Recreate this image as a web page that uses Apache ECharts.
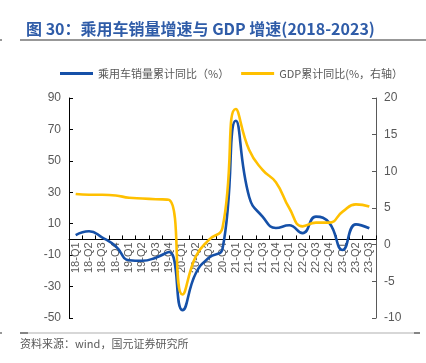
<!DOCTYPE html>
<html><head><meta charset="utf-8">
<script src="https://cdn.jsdelivr.net/npm/echarts@6/dist/echarts.min.js"></script>
<style>html,body{margin:0;padding:0;background:#fff;}#c{width:426px;height:363px;}</style>
</head><body><div id="c"></div>
<script>
var categories = ['18-Q1','18-Q2','18-Q3','18-Q4','19-Q1','19-Q2','19-Q3','19-Q4','20-Q1','20-Q2','20-Q3','20-Q4','21-Q1','21-Q2','21-Q3','21-Q4','22-Q1','22-Q2','22-Q3','22-Q4','23-Q1','23-Q2','23-Q3'];
var carSales = [2.8, 5.2, 1.2, -4.3, -13.2, -13.6, -11.6, -8.0, -45.0, -21.5, -11.5, -6.0, 75.5, 27.0, 14.5, 7.3, 9.0, 4.0, 14.5, 10.5, -6.7, 9.6, 7.1];
var gdp = [6.9, 6.8, 6.8, 6.7, 6.4, 6.3, 6.2, 6.1, -6.8, -1.6, 0.7, 2.3, 18.5, 12.9, 10.2, 8.5, 5.0, 2.5, 3.0, 3.0, 4.5, 5.5, 5.2];
var leftTicks = [-50, -30, -10, 10, 30, 50, 70, 90];
var seriesNames = ['乘用车销量累计同比（%）', 'GDP累计同比(%，右轴）'];

var chart = echarts.init(document.getElementById('c'), null, {renderer: 'canvas'});
var font = '"Noto Sans CJK SC", "Liberation Sans", sans-serif';
chart.setOption({
  animation: false,
  title: {
    text: '图 30：乘用车销量增速与 GDP 增速(2018-2023)',
    left: 21, top: 16,
    textStyle: {color: '#2F5CA8', fontSize: 16, fontWeight: 'bold', fontFamily: font}
  },
  legend: {
    left: 55, top: 63,
    icon: 'rect', itemWidth: 33, itemHeight: 3, itemGap: 12,
    textStyle: {color: '#595959', fontSize: 11, fontFamily: font},
    data: seriesNames
  },
  grid: {left: 69, right: 50, top: 98, bottom: 45},
  xAxis: {
    type: 'category', data: categories, boundaryGap: true, offset: 0,
    axisLine: {onZero: false, lineStyle: {color: '#000', width: 1}},
    axisTick: {show: true, inside: true, length: 4, lineStyle: {color: '#000'}},
    axisLabel: {rotate: 90, interval: 0, color: '#595959', fontSize: 11, margin: 3, fontFamily: '"Liberation Sans", sans-serif'},
    splitLine: {show: false}
  },
  yAxis: [{
    type: 'value', min: -50, max: 90, position: 'left',
    axisLine: {show: true, onZero: false, lineStyle: {color: '#000'}},
    axisTick: {show: true, inside: true, length: 4, customValues: leftTicks, lineStyle: {color: '#000'}},
    axisLabel: {color: '#595959', fontSize: 12, margin: 8, customValues: leftTicks, fontFamily: '"Liberation Sans", sans-serif'},
    splitLine: {show: false}
  }, {
    type: 'value', min: -10, max: 20, interval: 5, position: 'right',
    axisLine: {show: true, onZero: false, lineStyle: {color: '#595959'}},
    axisTick: {show: true, inside: true, length: 4, lineStyle: {color: '#595959'}},
    axisLabel: {color: '#595959', fontSize: 12, margin: 8, fontFamily: '"Liberation Sans", sans-serif'},
    splitLine: {show: false}
  }],
  series: [{
    name: seriesNames[0], type: 'line', data: carSales, yAxisIndex: 0,
    smooth: 0.5, showSymbol: false, symbol: 'none',
    itemStyle: {color: '#1550A8'},
    lineStyle: {color: '#1550A8', width: 2.6}
  }, {
    name: seriesNames[1], type: 'line', data: gdp, yAxisIndex: 1,
    smooth: 0.5, showSymbol: false, symbol: 'none',
    itemStyle: {color: '#FFC000'},
    lineStyle: {color: '#FFC000', width: 2.6}
  }],
  graphic: [
    {type: 'rect', shape: {x: 20, y: 39.5, width: 406, height: 1}, style: {fill: '#333'}},
    {type: 'rect', shape: {x: 0, y: 39.5, width: 2, height: 1}, style: {fill: '#333'}},
    {type: 'rect', shape: {x: 20, y: 332.5, width: 400, height: 1}, style: {fill: '#b0b0b0'}},
    {type: 'rect', shape: {x: 20, y: 332.5, width: 8, height: 1}, style: {fill: '#333'}},
    {type: 'rect', shape: {x: 414, y: 332.5, width: 6, height: 1}, style: {fill: '#333'}},
    {type: 'rect', shape: {x: 0, y: 332.5, width: 2, height: 1}, style: {fill: '#333'}},
    {type: 'text', left: 20, top: 338, style: {text: '资料来源：wind，国元证券研究所', fill: '#595959', fontSize: 11, fontFamily: font}}
  ]
});
// place the category axis on the left axis' zero, using the library's own scale
var zeroY = chart.convertToPixel({yAxisIndex: 0}, 0);
var bottomY = chart.convertToPixel({yAxisIndex: 0}, -50);
chart.setOption({xAxis: {offset: zeroY - bottomY}});
</script></body></html>
